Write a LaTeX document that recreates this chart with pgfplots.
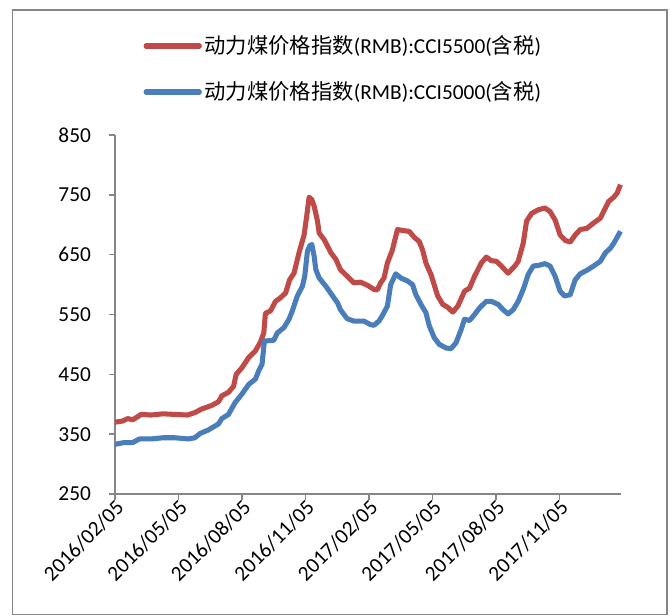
\documentclass[border=0pt]{standalone}
\usepackage{fontspec}
\setmainfont{Carlito}
\newfontfamily\cjk{Noto Sans CJK SC}
\usepackage{pgfplots}
\pgfplotsset{compat=1.18}
\definecolor{cred}{HTML}{BE4B48}
\definecolor{cblue}{HTML}{4A7EBB}
\definecolor{axgray}{HTML}{868686}
\begin{document}
\begin{tikzpicture}
\begin{axis}[
  at={(0,0)}, anchor=south west,
  scale only axis, width=379.3pt, height=269.25pt,
  xmin=0, xmax=7.965, ymin=250, ymax=850,
  axis lines*=left,
  axis line style={axgray, line width=1.1pt},
  every tick/.style={axgray, line width=1.1pt},
  tick align=outside, major tick length=4.5pt,
  xtick={0,1,2,3,4,5,6,7},
  xticklabels={2016/02/05,2016/05/05,2016/08/05,2016/11/05,2017/02/05,2017/05/05,2017/08/05,2017/11/05},
  ytick={250,350,450,550,650,750,850},
  /pgf/number format/assume math mode=true,
  ticklabel style={font=\fontsize{16}{19}\selectfont, black},
  xticklabel style={rotate=45, anchor=east, xshift=4pt, yshift=-5pt},
  yticklabel style={xshift=-10pt},
  legend style={at={(axis description cs:0.056,1.284)}, anchor=north west, draw=none, fill=none,
    font=\fontsize{16}{19}\selectfont, row sep=15.5pt, inner sep=0pt},
  legend cell align=left,
  legend image code/.code={\draw[#1, line cap=round] (0pt,0pt) -- (40pt,0pt);},
  clip=false,
]
\addplot[cred, line width=3.8pt, line join=round] coordinates {
(0,370) (0.122,372) (0.201,376) (0.280,374) (0.413,383) (0.571,382) (0.757,384) (0.942,383) (1.143,382) (1.259,386) (1.365,392) (1.524,398) (1.630,404) (1.683,414) (1.788,420) (1.868,430) (1.910,450) (2.000,461) (2.106,478) (2.212,489) (2.291,504) (2.344,519) (2.370,552) (2.450,556) (2.529,572) (2.608,578) (2.688,586) (2.751,608) (2.820,619) (2.899,653) (2.979,683) (3.016,711) (3.058,746) (3.101,742) (3.138,731) (3.190,706) (3.217,686) (3.296,675) (3.402,653) (3.481,642) (3.551,625) (3.657,614) (3.762,603) (3.868,604) (3.974,599) (4.079,592) (4.132,591) (4.185,603) (4.238,611) (4.291,636) (4.370,658) (4.449,692) (4.555,690) (4.634,689) (4.713,679) (4.792,672) (4.845,658) (4.898,636) (4.977,617) (5.083,581) (5.162,567) (5.241,562) (5.321,554) (5.400,564) (5.506,589) (5.585,594) (5.664,614) (5.770,636) (5.849,646) (5.928,640) (6.007,639) (6.087,631) (6.192,619) (6.298,631) (6.351,639) (6.430,669) (6.483,706) (6.562,719) (6.668,725) (6.773,728) (6.853,722) (6.932,708) (7.011,683) (7.090,674) (7.170,671) (7.249,683) (7.328,692) (7.434,694) (7.539,703) (7.645,711) (7.724,728) (7.777,739) (7.856,746) (7.909,753) (7.962,767)
};
\addlegendentry{{\cjk 动力煤价格指数}(RMB):CCI5500({\cjk 含税})}
\addplot[cblue, line width=3.8pt, line join=round] coordinates {
(0,333) (0.148,336) (0.280,336) (0.386,342) (0.571,342) (0.757,344) (0.942,344) (1.153,342) (1.259,344) (1.339,351) (1.471,357) (1.630,367) (1.683,376) (1.788,383) (1.894,403) (2.000,417) (2.106,433) (2.212,442) (2.265,456) (2.317,467) (2.354,506) (2.397,506) (2.503,507) (2.556,519) (2.661,528) (2.741,542) (2.794,556) (2.873,581) (2.952,597) (2.989,614) (3.032,656) (3.069,665) (3.101,667) (3.138,647) (3.164,625) (3.217,611) (3.323,597) (3.429,581) (3.508,569) (3.551,558) (3.657,543) (3.762,539) (3.921,539) (4.026,533) (4.079,532) (4.158,539) (4.211,548) (4.291,564) (4.343,600) (4.423,618) (4.502,611) (4.608,606) (4.687,600) (4.740,583) (4.819,567) (4.898,553) (4.951,531) (5.030,511) (5.109,500) (5.215,494) (5.294,493) (5.373,503) (5.453,525) (5.506,542) (5.585,540) (5.664,550) (5.743,561) (5.849,572) (5.928,572) (6.034,567) (6.113,558) (6.192,551) (6.272,558) (6.351,572) (6.430,592) (6.509,617) (6.588,631) (6.668,632) (6.773,635) (6.853,631) (6.932,614) (7.011,589) (7.080,581) (7.170,583) (7.249,608) (7.328,618) (7.434,624) (7.539,631) (7.645,639) (7.724,653) (7.804,661) (7.856,669) (7.909,679) (7.962,689)
};
\addlegendentry{{\cjk 动力煤价格指数}(RMB):CCI5000({\cjk 含税})}
\end{axis}
\pgfresetboundingbox
\useasboundingbox (-86.2pt,-91.5pt) rectangle (416.3pt,370.5pt);
\draw[axgray, line width=1.1pt] (-76.8pt,-90.4pt) rectangle (414.1pt,363pt);
\end{tikzpicture}
\end{document}
